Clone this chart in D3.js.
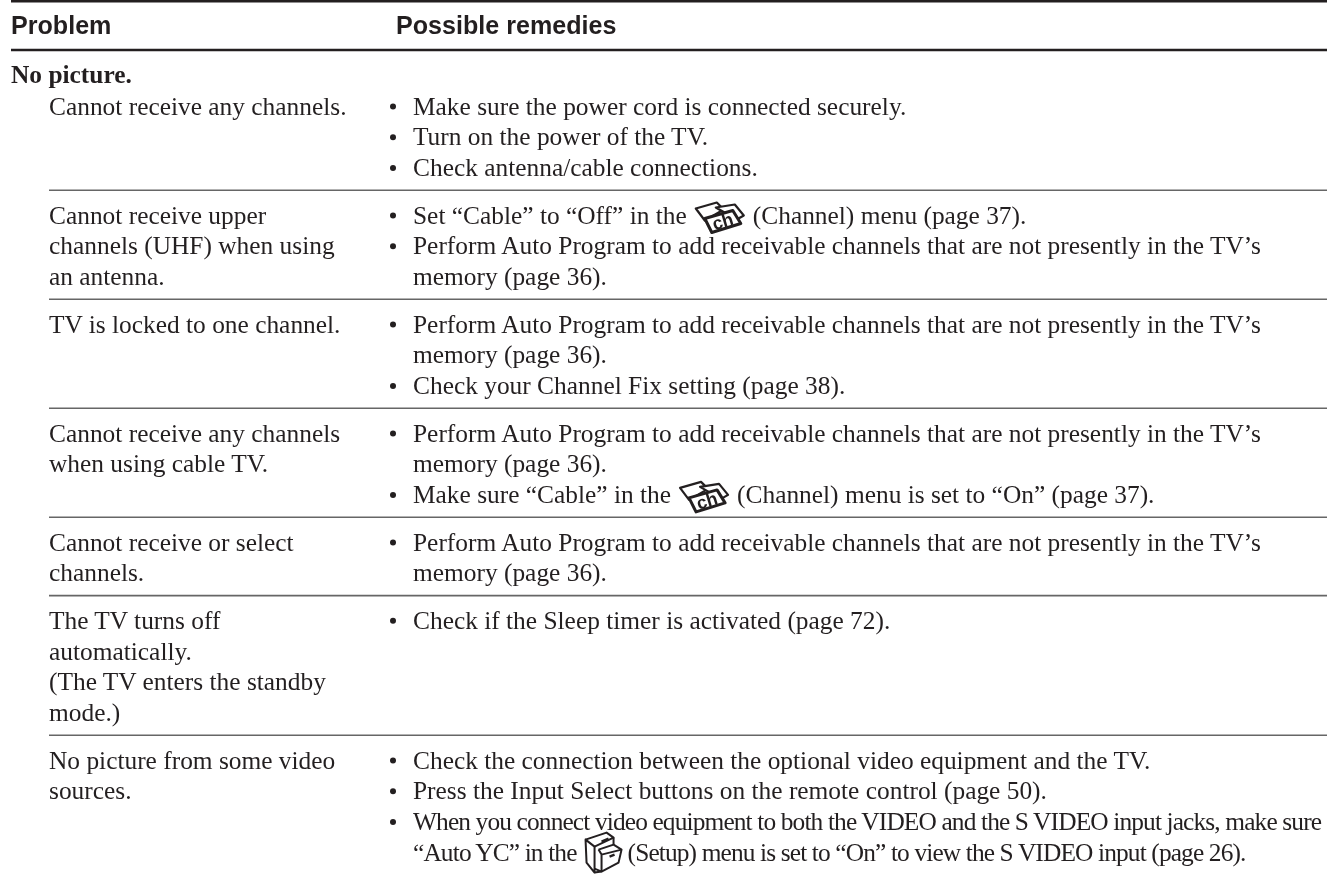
<!DOCTYPE html>
<html>
<head>
<meta charset="utf-8">
<script src="https://cdn.jsdelivr.net/npm/d3@7"></script>
<style>
html,body{margin:0;padding:0;background:#fff;}
svg{display:block;filter:blur(0.3px);}
</style>
</head>
<body>
<svg width="1327" height="875"></svg>
<script>
var headers=["Problem","Possible remedies"];
var section="No picture.";
var problems=[
    ["Cannot receive any channels."],
    ["Cannot receive upper","channels (UHF) when using","an antenna."],
    ["TV is locked to one channel."],
    ["Cannot receive any channels","when using cable TV."],
    ["Cannot receive or select","channels."],
    ["The TV turns off","automatically.","(The TV enters the standby","mode.)"],
    ["No picture from some video","sources."]
];
// "|ch|" and "|setup|" mark where a menu icon sits inside the line, "- " starts a bullet
var remedies=[
    ["- Make sure the power cord is connected securely.","- Turn on the power of the TV.","- Check antenna/cable connections."],
    ["- Set “Cable” to “Off” in the |ch|(Channel) menu (page 37).","- Perform Auto Program to add receivable channels that are not presently in the TV’s","memory (page 36)."],
    ["- Perform Auto Program to add receivable channels that are not presently in the TV’s","memory (page 36).","- Check your Channel Fix setting (page 38)."],
    ["- Perform Auto Program to add receivable channels that are not presently in the TV’s","memory (page 36).","- Make sure “Cable” in the |ch|(Channel) menu is set to “On” (page 37)."],
    ["- Perform Auto Program to add receivable channels that are not presently in the TV’s","memory (page 36)."],
    ["- Check if the Sleep timer is activated (page 72)."],
    ["- Check the connection between the optional video equipment and the TV.","- Press the Input Select buttons on the remote control (page 50).","- When you connect video equipment to both the VIDEO and the S VIDEO input jacks, make sure","“Auto YC” in the |setup|(Setup) menu is set to “On” to view the S VIDEO input (page 26)."]
];

var svg=d3.select("svg");
var ink="#231f20";
var serif="'Liberation Serif','Times New Roman',serif";
var sans="'Liberation Sans',Arial,sans-serif";
var bodySize=25.4;
var pitch=30.7;
var rowGap=47.6;
var col1=49,col2=413,bulletX=393,right=1327;

function putText(str,x,y,fam,size,weight,spacing){
    return svg.append("text")
    .attr("x",x)
    .attr("y",y)
    .attr("font-family",fam)
    .attr("font-size",size)
    .attr("font-weight",weight||"normal")
    .attr("letter-spacing",spacing||0)
    .attr("fill",ink)
    .text(str);
}
function rule(x1,y,w,color){
    svg.append("line")
    .attr("x1",x1).attr("x2",right)
    .attr("y1",y).attr("y2",y)
    .attr("stroke",color)
    .attr("stroke-width",w);
}
function chIcon(x,y){
    var g=svg.append("g").attr("transform","translate("+x+","+y+")")
    .attr("fill","#fff").attr("stroke",ink).attr("stroke-width",2.2).attr("stroke-linejoin","round");
    g.append("path").attr("d","M1 -10 L22 -16 L29 -9 L10 2 Z");
    g.append("path").attr("d","M21 -11 L40 -14 L49 -3 L42 1 Z");
    g.append("path").attr("d","M10 0 L38 -8 L46 5 L17 14 Z").attr("stroke-width",3);
    g.append("text").attr("x",28).attr("y",9)
    .attr("text-anchor","middle")
    .attr("transform","rotate(-17 28 3)")
    .attr("font-family",sans).attr("font-weight","bold").attr("font-size",18)
    .attr("fill",ink).attr("stroke","none").text("ch");
}
function setupIcon(x,y){
    var g=svg.append("g").attr("transform","translate("+x+","+y+")")
    .attr("fill","none").attr("stroke",ink).attr("stroke-width",2).attr("stroke-linejoin","round");
    g.append("path").attr("d","M1 -21 L10 -14 L10 12 L2 2 Z");
    g.append("path").attr("d","M1 -21 L22 -28 L29 -23 L10 -14");
    g.append("path").attr("d","M29 -23 L29 -16");
    g.append("path").attr("d","M14 -11 L29 -16 L37 -11 L34 2 L17 11 L10 8");
    g.append("path").attr("d","M14 -11 L17 -6 L37 -11 M17 -6 L17 11");
    g.append("path").attr("d","M10 12 L17 11");
    g.append("path").attr("d","M17 -19 L24 -22 M25 -4 L30 -6").attr("stroke-width",2.4);
}
function drawLine(str,y){
    var x=col2;
    // the last two lines of the table are set tight in the original
    var tight=str.indexOf("S VIDEO")>=0?-0.87:0;
    if(str.indexOf("- ")==0){
        svg.append("circle").attr("cx",bulletX).attr("cy",y-8).attr("r",3).attr("fill",ink);
        str=str.slice(2);
    }
    var m=str.match(/^(.*)\|(ch|setup)\|(.*)$/);
    if(!m){
        putText(str,x,y,serif,bodySize,"normal",tight);
        return;
    }
    var first=putText(m[1],x,y,serif,bodySize,"normal",tight);
    var end=x+first.node().getComputedTextLength();
    if(m[2]=="ch"){
        chIcon(end+8,y-5);
        putText(m[3],end+66,y,serif,bodySize,"normal",tight);
    }
    else{
        setupIcon(end+8,y);
        putText(m[3],end+51,y,serif,bodySize,"normal",tight);
    }
}

rule(11,1,3,ink);
rule(11,50,2.6,ink);
putText(headers[0],11,33.5,sans,25.1,"bold");
putText(headers[1],396,33.5,sans,25.1,"bold");
putText(section,11,83,serif,bodySize,"bold");

var y=114.5;
problems.forEach(function(p,i){
    var r=remedies[i];
    p.forEach(function(s,k){
        putText(s,col1,y+k*pitch,serif,bodySize);
    });
    r.forEach(function(s,k){
        drawLine(s,y+k*pitch);
    });
    var n=Math.max(p.length,r.length);
    if(i<problems.length-1){
        rule(col1,y+(n-1)*pitch+14.4,1.6,"#666");
    }
    y+=(n-1)*pitch+rowGap;
});
</script>
</body>
</html>
